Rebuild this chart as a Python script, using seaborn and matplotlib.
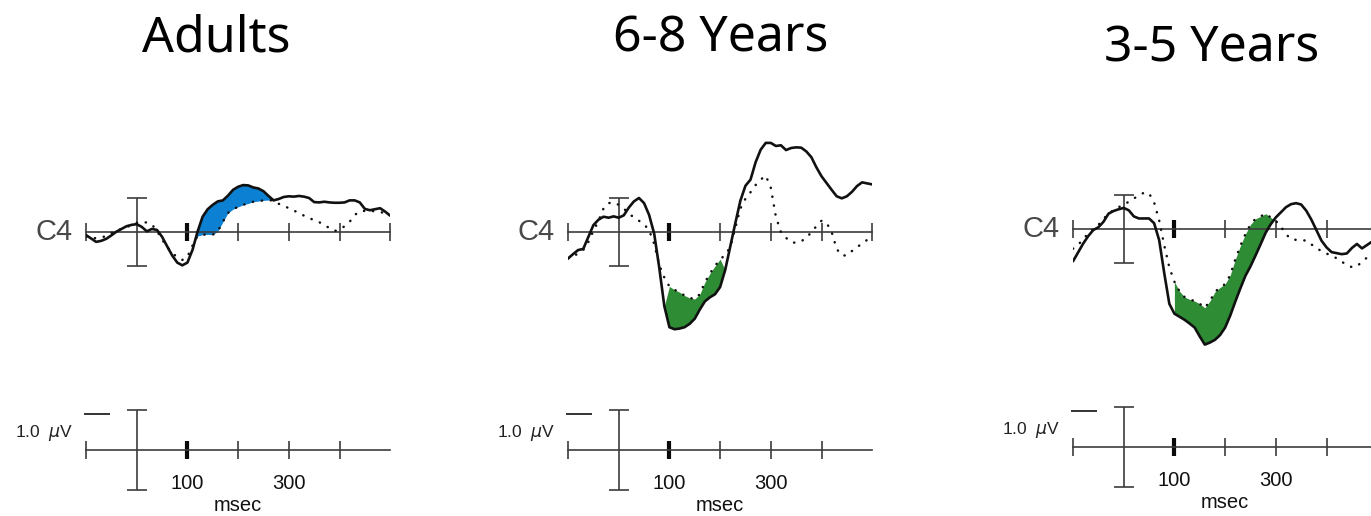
import numpy as np
import matplotlib
matplotlib.use("Agg")
import matplotlib.pyplot as plt
import seaborn as sns

# ERP waveforms at C4, every 10 ms (-100..500 ms), in uV
t_ms = np.arange(-100, 501, 10)

titles = ["Adults", "6-8 Years", "3-5 Years"]

adult_solid = [-0.09, -0.19, -0.29, -0.26, -0.20, -0.10, 0.01, 0.09, 0.17, 0.21,
               0.23, 0.15, 0.02, 0.09, 0.06, -0.14, -0.42, -0.69, -0.90, -0.98,
               -0.90, -0.53, 0.01, 0.45, 0.67, 0.80, 0.90, 0.93, 1.07, 1.24,
               1.33, 1.38, 1.37, 1.31, 1.28, 1.20, 1.06, 0.93, 0.97, 1.03,
               1.05, 1.04, 1.06, 1.04, 1.00, 0.88, 0.87, 0.89, 0.87, 0.86,
               0.86, 0.87, 0.93, 0.93, 0.87, 0.68, 0.64, 0.67, 0.70, 0.60, 0.48]
adult_dotted = [-0.14, -0.18, -0.18, -0.16, -0.12, -0.03, 0.04, 0.09, 0.14, 0.21,
                0.27, 0.29, 0.28, 0.22, 0.03, -0.22, -0.44, -0.62, -0.74, -0.82,
                -0.73, -0.40, -0.12, -0.08, -0.07, -0.08, 0.02, 0.30, 0.56, 0.67,
                0.74, 0.80, 0.84, 0.89, 0.91, 0.93, 0.94, 0.92, 0.83, 0.77,
                0.70, 0.63, 0.56, 0.48, 0.41, 0.35, 0.29, 0.20, 0.12, 0.03,
                0.07, 0.17, 0.30, 0.50, 0.61, 0.62, 0.62, 0.61, 0.59, 0.55, 0.50]

mid_solid = [-0.78, -0.65, -0.53, -0.50, -0.15, 0.20, 0.36, 0.45, 0.42, 0.46,
             0.42, 0.49, 0.72, 0.90, 1.00, 0.85, 0.50, -0.05, -1.05, -2.18,
             -2.80, -2.86, -2.84, -2.80, -2.70, -2.55, -2.28, -2.04, -1.92, -1.83,
             -1.62, -1.12, -0.43, 0.26, 0.92, 1.36, 1.54, 2.05, 2.42, 2.62,
             2.62, 2.53, 2.55, 2.41, 2.47, 2.49, 2.48, 2.37, 2.20, 1.90,
             1.64, 1.44, 1.24, 1.05, 0.99, 1.05, 1.18, 1.35, 1.46, 1.43, 1.40]
mid_dotted = [-0.78, -0.72, -0.63, -0.53, -0.30, 0.03, 0.32, 0.69, 0.85, 0.87,
              0.80, 0.69, 0.54, 0.43, 0.33, 0.23, 0.05, -0.35, -0.97, -1.34,
              -1.60, -1.70, -1.77, -1.87, -1.94, -1.97, -1.83, -1.48, -1.22, -1.00,
              -0.80, -0.68, -0.44, 0.12, 0.69, 0.98, 1.17, 1.38, 1.54, 1.66,
              1.30, 0.45, 0.00, -0.17, -0.30, -0.32, -0.27, -0.18, 0.00, 0.17,
              0.33, 0.27, 0.00, -0.50, -0.69, -0.69, -0.56, -0.44, -0.35, -0.23, -0.18]

young_solid = [-0.95, -0.69, -0.43, -0.21, -0.03, 0.05, 0.21, 0.45, 0.53, 0.58,
               0.62, 0.55, 0.37, 0.31, 0.31, 0.31, 0.17, -0.33, -1.30, -2.20,
               -2.49, -2.58, -2.67, -2.78, -2.90, -3.16, -3.40, -3.34, -3.26, -3.12,
               -2.90, -2.55, -2.14, -1.75, -1.38, -1.10, -0.78, -0.45, -0.11, 0.14,
               0.34, 0.49, 0.64, 0.73, 0.76, 0.72, 0.54, 0.28, -0.03, -0.34,
               -0.54, -0.68, -0.71, -0.74, -0.72, -0.56, -0.44, -0.57, -0.47, -0.37, -0.32]
young_dotted = [-0.58, -0.47, -0.30, -0.13, 0.00, 0.12, 0.29, 0.46, 0.55, 0.64,
                0.72, 0.80, 0.90, 0.98, 1.07, 1.05, 0.78, 0.25, -0.48, -1.13,
                -1.55, -1.83, -2.00, -2.07, -2.12, -2.20, -2.32, -2.12, -1.85, -1.72,
                -1.62, -1.36, -0.90, -0.50, -0.15, 0.13, 0.30, 0.37, 0.45, 0.34,
                0.24, 0.07, -0.15, -0.30, -0.32, -0.33, -0.34, -0.45, -0.56, -0.65,
                -0.72, -0.79, -0.86, -0.96, -1.06, -1.12, -1.10, -0.96, -0.84, -0.72, -0.65]

solid_series = [adult_solid, mid_solid, young_solid]
dotted_series = [adult_dotted, mid_dotted, young_dotted]

# shaded difference windows (ms) and which trace is on top
shade_windows = [(120, 270), (100, 200), (100, 300)]
shade_solid_on_top = [True, False, False]
shade_colors = ["#0c80d2", "#2e8c34", "#2e8c34"]

top_ticks = [-100, 100, 200, 300, 400, 500]
scale_ticks = [-100, 100, 200, 300, 400]
scale_labels = ["", "100", "", "300", ""]
top_bar_uv = 1.0
scale_bar_uv = 1.1
cal_uv = 1.0
cal_tick_ms = (-103, -53)

# layout in pixels (figure is 1371 x 516)
W, H = 1371, 516
panel_left = [86, 568, 1073]
top_zero_y = [232, 232, 229]
scale_zero_y = [450, 450, 447]
title_x = [216, 721, 1212]
title_base_y = [52, 52, 61]
px_per_100ms = 50.7
top_px_per_uv = 34
scale_px_per_uv = 36
top_ylim = (-3.6, 3.0)
scale_ylim = (-1.5, 1.5)

sns.set_theme(style="white")
plt.rcParams["font.family"] = ["Liberation Sans", "DejaVu Sans"]
plt.rcParams["mathtext.fontset"] = "dejavusans"

fig = plt.figure(figsize=(W / 100, H / 100), dpi=100)
axis_color = "#3c3c3c"
width_px = 6 * px_per_100ms


def style_axis(ax, ticks, labels, bar_uv):
    for side in ["top", "right", "left"]:
        ax.spines[side].set_visible(False)
    ax.spines["bottom"].set_position(("data", 0))
    ax.spines["bottom"].set_color(axis_color)
    ax.spines["bottom"].set_linewidth(1.2)
    ax.set_xlim(-100, 500)
    ax.set_yticks([])
    ax.set_xticks(ticks)
    ax.set_xticklabels(labels)
    ax.tick_params(axis="x", bottom=True, direction="inout", length=13, width=1.2,
                   color=axis_color, pad=11, labelsize=14.5, labelcolor="#111")
    ax.set_facecolor("none")
    # 100 ms tick drawn heavier
    bold = ax.xaxis.get_major_ticks()[1]
    bold.tick1line.set_markeredgewidth(3)
    bold.tick1line.set_markeredgecolor("#0a0a0a")
    ax.errorbar([0], [0], yerr=[bar_uv], fmt="none", ecolor=axis_color,
                elinewidth=1.2, capsize=7.2, capthick=1.2)


for i in range(3):
    # waveform axes
    h_top = (top_ylim[1] - top_ylim[0]) * top_px_per_uv
    bottom_px = top_zero_y[i] - top_ylim[0] * top_px_per_uv
    ax = fig.add_axes([panel_left[i] / W, (H - bottom_px) / H, width_px / W, h_top / H])
    ax.set_ylim(*top_ylim)
    style_axis(ax, top_ticks, [""] * len(top_ticks), top_bar_uv)

    solid = np.array(solid_series[i])
    dotted = np.array(dotted_series[i])
    lo, hi = shade_windows[i]
    in_win = (t_ms >= lo) & (t_ms <= hi)
    if shade_solid_on_top[i]:
        mask = in_win & (solid >= dotted)
    else:
        mask = in_win & (dotted >= solid)
    ax.fill_between(t_ms, solid, dotted, where=mask, interpolate=True,
                    color=shade_colors[i], linewidth=0, zorder=1)

    sns.lineplot(x=t_ms, y=dotted, ax=ax, color="#111", linewidth=1.8,
                 linestyle=(0, (0.1, 3.5)), dash_capstyle="round", zorder=3)
    sns.lineplot(x=t_ms, y=solid, ax=ax, color="#111", linewidth=1.9, zorder=4)
    ax.set_xlim(-100, 500)
    ax.set_ylim(*top_ylim)
    ax.set_xlabel("")
    ax.set_ylabel("")
    ax.text(-126, 0, "C4", ha="right", va="center", fontsize=21, color="#484848")

    # calibration / time scale axes
    h_sc = (scale_ylim[1] - scale_ylim[0]) * scale_px_per_uv
    bottom_px = scale_zero_y[i] - scale_ylim[0] * scale_px_per_uv
    sx = fig.add_axes([panel_left[i] / W, (H - bottom_px) / H, width_px / W, h_sc / H])
    sx.set_ylim(*scale_ylim)
    style_axis(sx, scale_ticks, scale_labels, scale_bar_uv)
    sx.set_ylim(*scale_ylim)
    sx.hlines(cal_uv, cal_tick_ms[0], cal_tick_ms[1], color="#111", linewidth=1.2,
              clip_on=False)
    sx.text(-124, 0.47, "1.0  $\\mu$V", ha="right", va="center", fontsize=12.5,
            color="#222")
    sx.set_xlabel("msec", fontsize=14.5, labelpad=2, color="#111")

    fig.text(title_x[i] / W, 1 - title_base_y[i] / H, titles[i], ha="center",
             va="baseline", fontsize=36, family=["Noto Sans", "DejaVu Sans"], color="#000")

fig.savefig("out.png", dpi=100)
